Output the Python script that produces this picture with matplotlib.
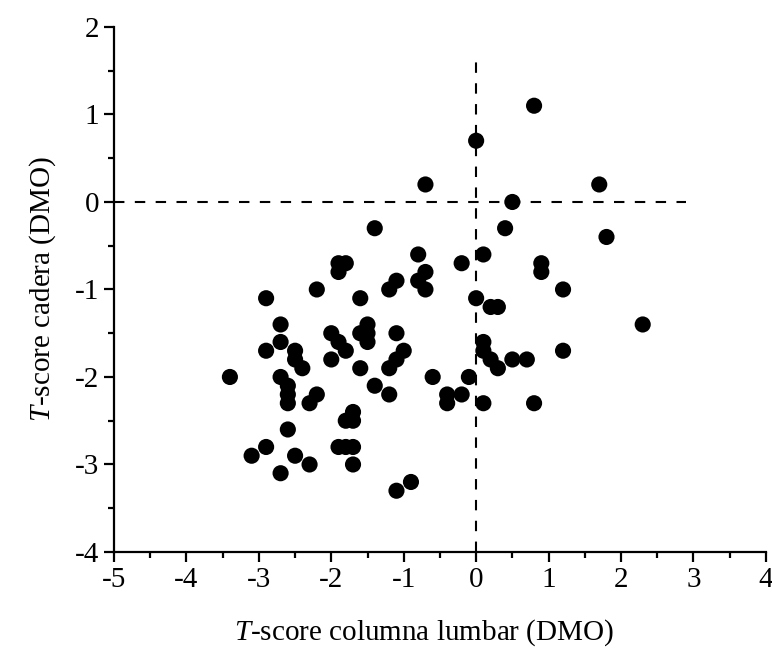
import matplotlib
matplotlib.use("Agg")
import matplotlib.pyplot as plt
import numpy as np
from matplotlib.ticker import MultipleLocator

# =============================================================================
# Data (T-score lumbar spine vs hip)
# =============================================================================
lumbar = [0.8, 0.0, -0.7, 1.7, 0.5, -1.4, 0.4, 1.8, -0.8, 0.1,
          -0.2, -1.9, -1.8, -1.9, -0.7, -0.8, -0.7, -1.1, -1.2, 0.9,
          0.9, -2.2, 1.2, -2.9, -1.6, 0.0, 0.2, 0.3, 2.3, -2.7,
          -1.5, -1.6, -1.5, -1.5, -2.0, -1.1, -2.7, -1.9, -1.8, -2.9,
          -2.5, -2.5, -2.4, -2.0, -1.6, -1.0, -1.1, -1.2, 1.2, 0.1,
          0.1, 0.2, 0.3, 0.5, 0.7, -3.4, -2.7, -2.6, -2.6, -2.6,
          -2.2, -2.3, -1.4, -1.2, -0.6, -0.1, -0.4, -0.4, -0.2, 0.1,
          0.8, -1.7, -1.8, -1.7, -2.6, -2.9, -3.1, -2.5, -2.3, -2.7,
          -1.9, -1.8, -1.7, -1.7, -1.1, -0.9]
cadera = [1.1, 0.7, 0.2, 0.2, 0.0, -0.3, -0.3, -0.4, -0.6, -0.6,
          -0.7, -0.7, -0.7, -0.8, -0.8, -0.9, -1.0, -0.9, -1.0, -0.7,
          -0.8, -1.0, -1.0, -1.1, -1.1, -1.1, -1.2, -1.2, -1.4, -1.4,
          -1.4, -1.5, -1.5, -1.6, -1.5, -1.5, -1.6, -1.6, -1.7, -1.7,
          -1.7, -1.8, -1.9, -1.8, -1.9, -1.7, -1.8, -1.9, -1.7, -1.6,
          -1.7, -1.8, -1.9, -1.8, -1.8, -2.0, -2.0, -2.1, -2.2, -2.3,
          -2.2, -2.3, -2.1, -2.2, -2.0, -2.0, -2.2, -2.3, -2.2, -2.3,
          -2.3, -2.4, -2.5, -2.5, -2.6, -2.8, -2.9, -2.9, -3.0, -3.1,
          -2.8, -2.8, -2.8, -3.0, -3.3, -3.2]

xticks = [-5, -4, -3, -2, -1, 0, 1, 2, 3, 4]
yticks = [-4, -3, -2, -1, 0, 1, 2]

# =============================================================================
# Style
# =============================================================================
plt.rcParams['font.family'] = ['Liberation Serif', 'DejaVu Serif']
plt.rcParams['mathtext.fontset'] = 'custom'
plt.rcParams['mathtext.it'] = 'Liberation Serif:italic'
plt.rcParams['mathtext.rm'] = 'Liberation Serif'
plt.rcParams['axes.unicode_minus'] = False

fig = plt.figure(figsize=(7.72, 6.53), dpi=100)
ax = fig.add_axes([0.1477, 0.1547, 0.8443, 0.804])

# reference lines
ax.plot([-5, 2.9], [0, 0], color='black', lw=1.5, dashes=(5, 5), zorder=1)
ax.plot([0, 0], [-4, 1.6], color='black', lw=1.5, dashes=(5, 5), zorder=1)

ax.scatter(lumbar, cadera, s=135, color='black', edgecolors='none', zorder=3)

ax.set_xlim(-5, 4)
ax.set_ylim(-4, 2)
ax.set_xticks(xticks)
ax.set_yticks(yticks)
ax.xaxis.set_minor_locator(MultipleLocator(0.5))
ax.yaxis.set_minor_locator(MultipleLocator(0.5))

ax.spines['top'].set_visible(False)
ax.spines['right'].set_visible(False)
ax.spines['left'].set_linewidth(1.6)
ax.spines['bottom'].set_linewidth(1.6)
ax.tick_params(which='major', direction='out', length=7.5, width=1.6,
               labelsize=21, pad=3)
ax.tick_params(which='minor', direction='out', length=4, width=1.6)

ax.set_xlabel('$\\mathit{T}$-score columna lumbar (DMO)', fontsize=21)
ax.xaxis.set_label_coords(0.475, -0.125)
ax.set_ylabel('$\\mathit{T}$-score cadera (DMO)', fontsize=21, labelpad=12)

fig.savefig('out.png', dpi=100)
